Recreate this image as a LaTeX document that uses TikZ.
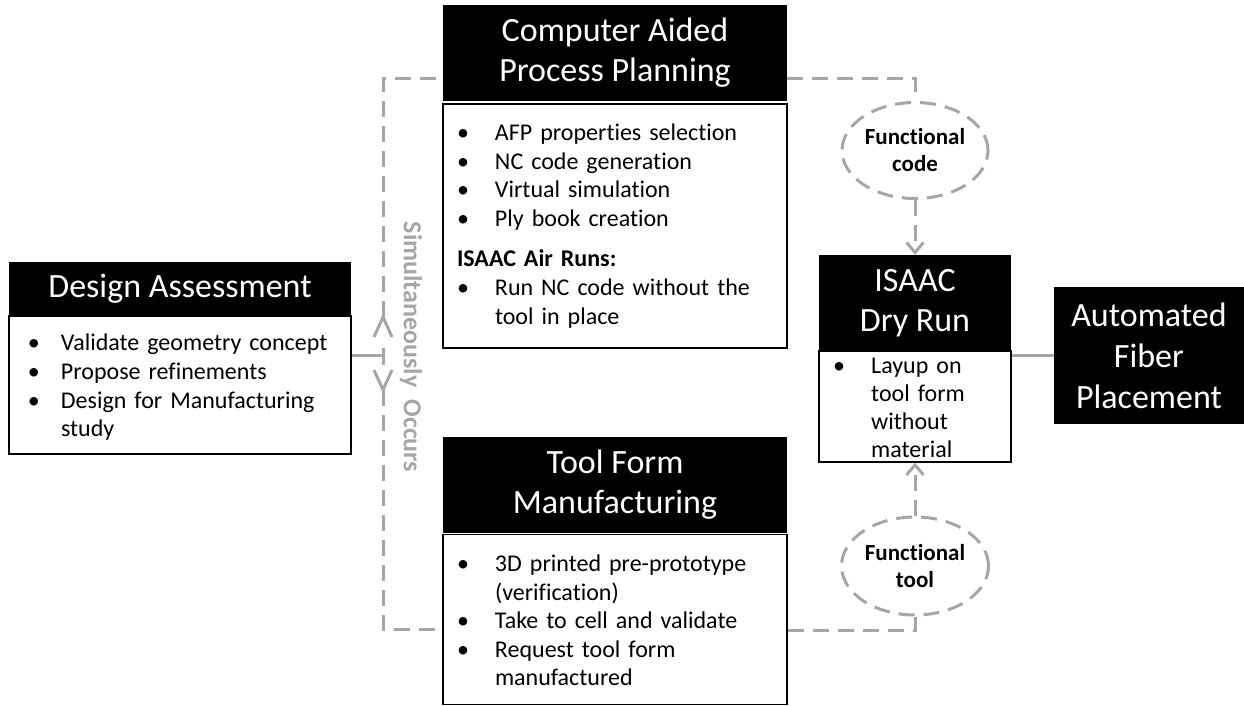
\documentclass[tikz,border=0pt]{standalone}
\usepackage{fontspec}
\setmainfont{Carlito}[Ligatures=CommonOff]
\usetikzlibrary{arrows.meta,shapes.geometric}
\definecolor{lg}{HTML}{A6A6A6}
\newcommand\itm[2]{\par\hangindent=52pt\hangafter=1\noindent\makebox[52pt][l]{\hspace{#1pt}\textbullet}#2}
\newcommand\nl{\break}
\newcommand\rag{\rightskip=0pt plus 1fil\parfillskip=0pt plus 1fil\hyphenpenalty=10000\parindent=0pt\parskip=0pt}
\newcommand\lift{\par\kern10pt}
\begin{document}
\begin{tikzpicture}[x=1pt,y=-1pt,
  hdr/.style={fill=black, text=white, inner sep=0pt, align=center, font=\fontsize{34}{40}\selectfont},
  bodybox/.style={draw=black, line width=1.2pt, fill=white, inner xsep=0pt, inner ysep=0pt, font=\fontsize{24}{28.6}\selectfont},
  ell/.style={ellipse, draw=lg, line width=3pt, dash pattern=on 16pt off 9pt, inner sep=0pt, align=center, font=\fontsize{23}{27}\selectfont\bfseries},
  scon/.style={draw=lg, line width=3pt},
  dcon/.style={draw=lg, line width=3pt, dash pattern=on 16pt off 9pt},
  tipar/.style={-{Straight Barb[length=10pt,width=17pt]}}
]
\useasboundingbox (0,0) rectangle (1244,706);
% Design Assessment
\node[hdr, minimum width=342pt, minimum height=53pt] (dah) at (180,288.5) {Design Assessment};
\node[bodybox, minimum width=342pt, minimum height=138pt, text width=342pt] (dab) at (180,385)
  {\rag\itm{19}{Validate geometry concept}\itm{19}{Propose refinements}\itm{19}{Design for Manufacturing\nl study}\par\kern7pt};
% CAPP
\node[hdr, minimum width=344pt, minimum height=96pt] (capph) at (615,53) {Computer Aided\\Process Planning};
\node[bodybox, minimum width=344pt, minimum height=244pt, text width=344pt] (cappb) at (615,226)
  {\rag\itm{14}{AFP properties selection}\itm{14}{NC code generation}\itm{14}{Virtual simulation}\itm{14}{Ply book creation}\par\vspace{12pt}\noindent\hspace*{14pt}\textbf{ISAAC Air Runs:}\itm{14}{Run NC code without the\nl tool in place}\par\kern12pt};
% Tool Form
\node[hdr, minimum width=344pt, minimum height=96pt] (toolh) at (615,485) {Tool Form\\Manufacturing};
\node[bodybox, minimum width=344pt, minimum height=170pt, text width=344pt] (toolb) at (615,619.5)
  {\rag\itm{14}{3D printed pre-prototype\nl (verification)}\itm{14}{Take to cell and validate}\itm{14}{Request tool form\nl manufactured}\lift};
% ISAAC Dry Run
\node[hdr, minimum width=192pt, minimum height=96pt] (isaach) at (915,303) {ISAAC\\Dry Run};
\node[bodybox, minimum width=192pt, minimum height=111pt] (isaacb) at (915,406.5) {};
\node[anchor=north west, inner sep=0pt, text width=192pt, font=\fontsize{24}{28.3}\selectfont] (isaact) at (819,344.5)
  {\rag\itm{14}{Layup on\nl tool form\nl without\nl material}\par};
% AFP
\node[hdr, minimum width=190pt, minimum height=137pt, font=\fontsize{34}{41}\selectfont] (afp) at (1149,355.5) {Automated\\Fiber\\Placement};
% ellipses
\node[ell, minimum width=146pt, minimum height=96pt] (ell1) at (915,150.5) {Functional\\code};
\node[ell, minimum width=147pt, minimum height=98pt] (ell2) at (915,566) {Functional\\tool};
% label
\node[rotate=-90, text=lg, inner sep=0pt, font=\fontsize{26}{30}\selectfont\bfseries] (sim) at (411,347) {Simultaneously\hspace{12pt}Occurs};
% coordinates
\coordinate (j) at (383,355);
\coordinate (up) at (383,317);
\coordinate (dn) at (383,390);
\coordinate (tl) at (383,79);
\coordinate (bl) at (383,629);
\coordinate (tr) at (915,79);
\coordinate (br) at (915,630);
% connectors
\draw[scon] (j -| dab.east) -- (j);
\draw[scon] (383,348) -- (383,365);
\draw[scon] (374,337) -- (up) -- (392,337);
\draw[scon] (374,370) -- (dn) -- (392,370);
\draw[dcon] (up) -- (tl) -- (tl -| capph.west);
\draw[dcon] (dn) -- (bl) -- (bl -| toolb.west);
\draw[dcon] (tr -| capph.east) -- (tr) -- (ell1.north);
\draw[dcon, tipar] (ell1.south) -- (isaach.north);
\draw[dcon] (br -| toolb.east) -- (br) -- (ell2.south);
\draw[dcon, tipar] (ell2.north) -- (isaacb.south);
\draw[scon] (afp.west) -- (afp.west -| isaacb.east);
\end{tikzpicture}
\end{document}
